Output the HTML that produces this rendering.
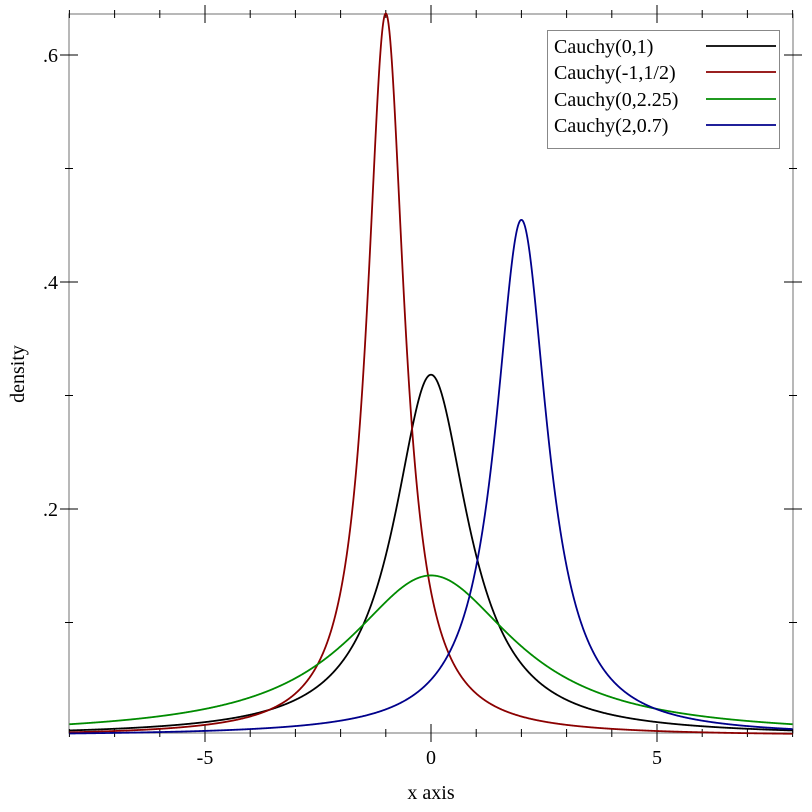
<!DOCTYPE html>
<html><head><style>body{margin:0;background:#fff}svg{display:block}text{font-family:"Liberation Serif",serif;font-size:20px}</style></head>
<body>
<svg id="s" width="812" height="812" xmlns="http://www.w3.org/2000/svg">
<rect x="69" y="14" width="724" height="719" fill="none" stroke="#888" stroke-width="1.2"/>
<g id="ticks" stroke="#000" stroke-width="1"></g>
<g id="curves" fill="none" stroke-width="1.8"></g>
<text x="205" y="764" text-anchor="middle">-5</text>
<text x="431" y="764" text-anchor="middle">0</text>
<text x="657" y="764" text-anchor="middle">5</text>
<text x="431" y="799" text-anchor="middle">x axis</text>
<text x="58" y="62" text-anchor="end">.6</text>
<text x="58" y="289" text-anchor="end">.4</text>
<text x="58" y="516" text-anchor="end">.2</text>
<text transform="translate(24,374) rotate(-90)" text-anchor="middle">density</text>
<rect x="547.5" y="30.5" width="232" height="118" fill="#fff" stroke="#888"/>
<text x="554" y="53">Cauchy(0,1)</text>
<text x="554" y="79">Cauchy(-1,1/2)</text>
<text x="554" y="106">Cauchy(0,2.25)</text>
<text x="554" y="132">Cauchy(2,0.7)</text>
<g stroke-width="1.8"><line x1="706" x2="776" y1="46" y2="46" stroke="#000"/><line x1="706" x2="776" y1="72" y2="72" stroke="#8b0000"/><line x1="706" x2="776" y1="99" y2="99" stroke="#008b00"/><line x1="706" x2="776" y1="125" y2="125" stroke="#00008b"/></g>
</svg>
<script>
var X=function(x){return 431+x*45.2},Y=function(y){return 736-y*1135};
var t='';
for(var i=-8;i<=8;i++){var x=X(i),m=(i%5==0),L=m?9:4;t+='<line x1="'+x+'" x2="'+x+'" y1="'+(733-L)+'" y2="'+(733+L)+'"/><line x1="'+x+'" x2="'+x+'" y1="'+(14-L)+'" y2="'+(14+L)+'"/>';}
for(var j=1;j<=6;j++){var y=Y(j*0.1),m=(j%2==0),L=m?9:4;t+='<line y1="'+y+'" y2="'+y+'" x1="'+(69-L)+'" x2="'+(69+L)+'"/><line y1="'+y+'" y2="'+y+'" x1="'+(793-L)+'" x2="'+(793+L)+'"/>';}
document.getElementById('ticks').innerHTML=t;
var cs=[[0,1,'#000'],[-1,.5,'#8b0000'],[0,2.25,'#008b00'],[2,.7,'#00008b']],h='';
cs.forEach(function(c){var d='';for(var k=0;k<=1600;k++){var x=-8+k*0.01,v=c[1]/(Math.PI*((x-c[0])*(x-c[0])+c[1]*c[1]));d+=(k?'L':'M')+X(x).toFixed(2)+' '+Y(v).toFixed(2);}h+='<path d="'+d+'" stroke="'+c[2]+'"/>';});
document.getElementById('curves').innerHTML=h;
</script>
</body></html>
